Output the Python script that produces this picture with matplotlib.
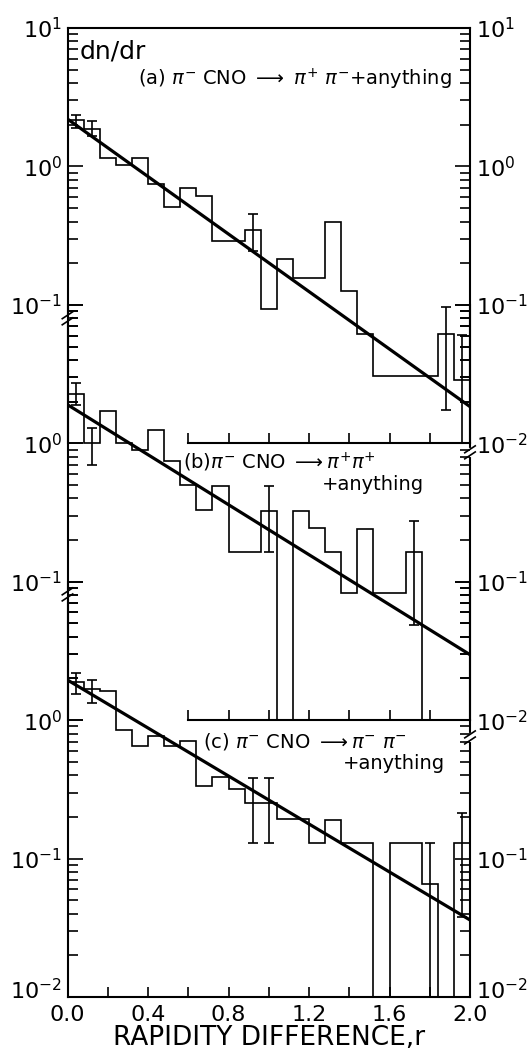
import numpy as np
import matplotlib
matplotlib.use("Agg")
import matplotlib.pyplot as plt
from matplotlib.ticker import FixedLocator, LogLocator, NullFormatter

plt.rcParams['font.family'] = 'DejaVu Sans'
plt.rcParams['mathtext.fontset'] = 'dejavusans'

# rapidity difference bins, 0.08 wide
edges = np.array([0.00, 0.08, 0.16, 0.24, 0.32, 0.40, 0.48, 0.56, 0.64, 0.72,
                  0.80, 0.88, 0.96, 1.04, 1.12, 1.20, 1.28, 1.36, 1.44, 1.52,
                  1.60, 1.68, 1.76, 1.84, 1.92, 2.00])
centers = 0.5 * (edges[:-1] + edges[1:])

# (a) pi- CNO -> pi+ pi- + anything
dndr_a = [2.17, 1.87, 1.16, 1.03, 1.15, 0.745, 0.508, 0.697, 0.614, 0.287,
          0.287, 0.349, 0.0937, 0.214, 0.156, 0.156, 0.396, 0.125, 0.0618, 0.0307,
          0.0307, 0.0307, 0.0307, 0.0615, 0.0288]
err_a_bin = [0, 1, 11, 23, 24]
err_a_lo = [1.89, 1.65, 0.243, 0.0175, 0.0]
err_a_hi = [2.36, 2.14, 0.452, 0.0973, 0.061]
fit_a = [2.2, 0.0184]

# (b) pi- CNO -> pi+ pi+ + anything
dndr_b = [2.27, 1.00, 1.70, 1.00, 0.90, 1.24, 0.741, 0.503, 0.332, 0.489,
          0.163, 0.163, 0.323, 0.0, 0.323, 0.244, 0.163, 0.0828, 0.24, 0.0828,
          0.0828, 0.163, 0.0, 0.0, 0.0]
err_b_bin = [0, 1, 12, 21]
err_b_lo = [1.90, 0.70, 0.163, 0.049]
err_b_hi = [2.73, 1.28, 0.489, 0.273]
fit_b = [1.9, 0.0297]

# (c) pi- CNO -> pi- pi- + anything
dndr_c = [1.89, 1.69, 1.63, 0.847, 0.652, 0.77, 0.652, 0.709, 0.333, 0.389,
          0.32, 0.254, 0.254, 0.192, 0.192, 0.13, 0.19, 0.13, 0.13, 0.0,
          0.13, 0.13, 0.065, 0.0, 0.13]
err_c_bin = [0, 1, 11, 12, 22, 24]
err_c_lo = [1.54, 1.33, 0.13, 0.13, 0.0, 0.038]
err_c_hi = [2.20, 1.95, 0.385, 0.385, 0.13, 0.212]
fit_c = [1.95, 0.036]

fit_r = [0.0, 2.0]

majors = [1e-2, 1e-1, 1e0, 1e1]
xt = [0.0, 0.2, 0.4, 0.6, 0.8, 1.0, 1.2, 1.4, 1.6, 1.8, 2.0]
xt_labels = ['0.0', '', '0.4', '', '0.8', '', '1.2', '', '1.6', '', '2.0']
inner_xt = [0.6, 0.8, 1.0, 1.2, 1.4, 1.6, 1.8]

# page geometry in pixels
W, H = 529, 1055
left_px, right_px = 67.5, 470.0
top_px, bot_px = 28.0, 997.0
dec = (bot_px - top_px) / 7.0

fig = plt.figure(figsize=(W / 100, H / 100), dpi=100)
fig.patch.set_facecolor('white')

LW_AX = 1.5


def make_panel(top, left_lab, right_lab):
    ax = fig.add_axes([left_px / W, 1 - (top + 3 * dec) / H,
                       (right_px - left_px) / W, 3 * dec / H])
    ax.set_facecolor('none')
    ax.set_yscale('log')
    ax.set_xlim(0, 2)
    ax.set_ylim(1e-2, 1e1)
    axr = ax.twinx()
    axr.set_yscale('log')
    axr.set_ylim(1e-2, 1e1)
    for a, labs in ((ax, left_lab), (axr, right_lab)):
        a.yaxis.set_major_locator(FixedLocator(majors))
        a.set_yticklabels(labs)
        a.yaxis.set_minor_locator(LogLocator(base=10, subs=np.arange(2, 10) * 1.0, numticks=20))
        a.yaxis.set_minor_formatter(NullFormatter())
        a.tick_params(axis='y', which='major', direction='in', length=11, width=1.2,
                      labelsize=16, pad=4)
        a.tick_params(axis='y', which='minor', direction='in', length=7, width=1.2)
    for s in axr.spines.values():
        s.set_visible(False)
    for s in ax.spines.values():
        s.set_linewidth(LW_AX)
    return ax


def draw_panel(ax, vals, eb, lo, hi, fit):
    ax.stairs(vals, edges, baseline=None, color='black', lw=1.2)
    v = np.array(vals)[eb]
    lo = np.array(lo)
    hi = np.array(hi)
    ax.errorbar(centers[eb], v, yerr=[v - lo, hi - v], fmt='none', ecolor='black',
                elinewidth=1.2, capsize=3.5, capthick=1.2)
    ax.plot(fit_r, fit, color='black', lw=2.3, solid_capstyle='butt')


def draw_break(ax, xa, yv):
    tr = ax.get_yaxis_transform()
    ax.plot([xa, xa], [yv * 10 ** -0.02, yv * 10 ** 0.02], color='white', lw=3,
            transform=tr, clip_on=False, zorder=5)
    for k in (-0.022, 0.022):
        ax.plot([xa - 0.013, xa + 0.013],
                [yv * 10 ** (k - 0.025), yv * 10 ** (k + 0.025)],
                color='black', lw=1.2, transform=tr, clip_on=False, zorder=6)


ax_a = make_panel(top_px, ['', r'$10^{-1}$', r'$10^{0}$', r'$10^{1}$'],
                  [r'$10^{-2}$', r'$10^{-1}$', r'$10^{0}$', r'$10^{1}$'])
ax_b = make_panel(top_px + 2 * dec, ['', r'$10^{-1}$', r'$10^{0}$', ''],
                  [r'$10^{-2}$', r'$10^{-1}$', '', ''])
ax_c = make_panel(top_px + 4 * dec, ['', r'$10^{-1}$', r'$10^{0}$', ''],
                  ['', r'$10^{-1}$', '', ''])

# lowest decade labels of panel (c) sit a little above their ticks
for xa, dx, ha in ((0, -4, 'right'), (1, 4, 'left')):
    ax_c.annotate(r'$10^{-2}$', xy=(xa, 1e-2), xycoords=ax_c.get_yaxis_transform(),
                  xytext=(dx, 6), textcoords='offset points', ha=ha,
                  va='center_baseline', fontsize=16)

draw_panel(ax_a, dndr_a, err_a_bin, err_a_lo, err_a_hi, fit_a)
draw_panel(ax_b, dndr_b, err_b_bin, err_b_lo, err_b_hi, fit_b)
draw_panel(ax_c, dndr_c, err_c_bin, err_c_lo, err_c_hi, fit_c)

# short inner axes under panels (a) and (b)
for ax in (ax_a, ax_b):
    ax.spines['bottom'].set_bounds(0.6, 2.0)
    ax.set_xticks(inner_xt)
    ax.tick_params(axis='x', direction='in', length=7, width=1.2, labelbottom=False)
for ax in (ax_b, ax_c):
    ax.spines['top'].set_visible(False)

ax_c.set_xticks(xt)
ax_c.set_xticklabels(xt_labels)
ax_c.tick_params(axis='x', direction='in', length=7, width=1.2, labelsize=16, pad=6)
ax_c.set_xlabel('RAPIDITY DIFFERENCE,r', fontsize=19, labelpad=0)

# axis breaks
draw_break(ax_a, 0.0, 0.080)
draw_break(ax_b, 0.0, 0.081)
draw_break(ax_b, 1.0, 0.86)
draw_break(ax_c, 1.0, 0.75)

ax_a.text(0.062, 6.8, 'dn/dr', fontsize=18, va='center')
ax_a.text(0.35, 4.25, r'(a) $\pi^{-}$ CNO $\longrightarrow$ $\pi^{+}$ $\pi^{-}$+anything',
          fontsize=14, va='center')
ax_b.text(0.573, 0.73, r'(b)$\pi^{-}$ CNO $\longrightarrow$$\pi^{+}\pi^{+}$',
          fontsize=14, va='center')
ax_b.text(1.263, 0.50, '+anything', fontsize=14, va='center')
ax_c.text(0.672, 0.705, r'(c) $\pi^{-}$ CNO $\longrightarrow$$\pi^{-}$ $\pi^{-}$',
          fontsize=14, va='center')
ax_c.text(1.367, 0.489, '+anything', fontsize=14, va='center')

fig.savefig('out.png', dpi=100, facecolor='white')
